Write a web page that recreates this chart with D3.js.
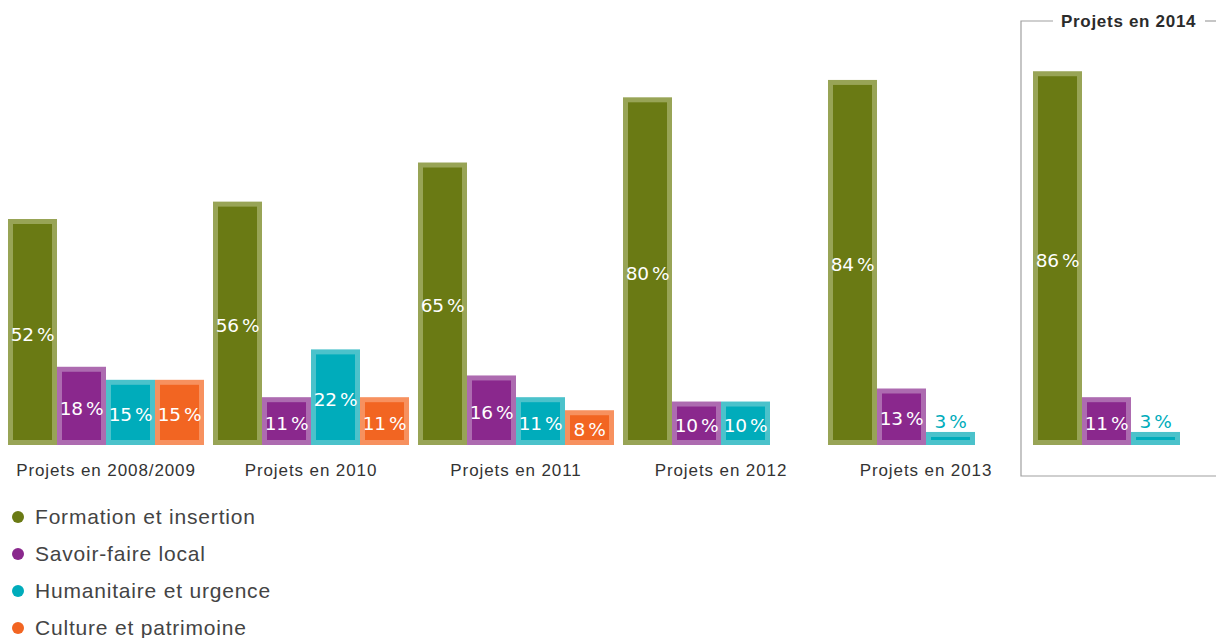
<!DOCTYPE html>
<html lang="fr">
<head>
<meta charset="utf-8">
<script src="https://cdn.jsdelivr.net/npm/d3@7"></script>
<style>
  html, body { margin: 0; padding: 0; background: #fff; }
  svg { display: block; }
</style>
</head>
<body>
<svg id="chart" width="1216" height="638"></svg>
<script>
// Project years and thematic categories
const years = ["2008/2009", "2010", "2011", "2012", "2013", "2014"];
const categories = ["Formation et insertion", "Savoir-faire local", "Humanitaire et urgence", "Culture et patrimoine"];

// Share of projects per category, in percent (null = no project)
const formation   = [52, 56, 65, 80, 84, 86];
const savoirFaire = [18, 11, 16, 10, 13, 11];
const humanitaire = [15, 22, 11, 10, 3, 3];
const culture     = [15, 11, 8, null, null, null];

const groupLabels = ["Projets en 2008/2009", "Projets en 2010", "Projets en 2011", "Projets en 2012", "Projets en 2013", ""];
const highlightLabel = "Projets en 2014";

const darkColors  = ["#6a7a14", "#8a288d", "#00acbb", "#f26522"];
const lightColors = ["#98a456", "#ad6bb0", "#4bc2cb", "#f7915f"];

const series = [formation, savoirFaire, humanitaire, culture];

const svg = d3.select("#chart");

const baseY = 445;
const x0 = d3.scaleBand().domain(years).range([8, 1229]).paddingInner(9 / 205).paddingOuter(0);
const x1 = d3.scaleBand().domain(categories).range([0, x0.bandwidth()]).padding(0);
const y = d3.scaleLinear().domain([0, 100]).range([baseY, baseY - 434.6]);

const inset = 5;
const labelFont = "'DejaVu Sans', sans-serif";
const textFont = "'Liberation Sans', Arial, sans-serif";

years.forEach((yr, i) => {
  const g = svg.append("g").attr("transform", `translate(${x0(yr)},0)`);
  categories.forEach((cat, c) => {
    const v = series[c][i];
    if (v == null) return;
    const bx = x1(cat), bw = x1.bandwidth();
    const top = y(v), h = baseY - top;
    g.append("rect")
      .attr("x", bx).attr("y", top).attr("width", bw).attr("height", h)
      .attr("fill", lightColors[c]);
    g.append("rect")
      .attr("x", bx + inset).attr("y", top + inset)
      .attr("width", bw - 2 * inset).attr("height", Math.max(0, h - 2 * inset))
      .attr("fill", darkColors[c]);
    const small = v < 5;
    g.append("text")
      .attr("x", bx + bw / 2)
      .attr("y", small ? top - 11 : top + h / 2 + 2)
      .attr("dy", "0.36em")
      .attr("text-anchor", "middle")
      .attr("font-family", labelFont)
      .attr("font-size", 18.5)
      .attr("letter-spacing", "-0.3")
      .attr("fill", small ? darkColors[c] : "#ffffff")
      .text(v + "\u2009%");
  });
});

// Group captions under the bars
const axis = d3.axisBottom(x0).tickSize(0).tickFormat((d, i) => groupLabels[i]);
const axisG = svg.append("g").attr("transform", `translate(0,${baseY + 16})`).call(axis);
axisG.select(".domain").remove();
axisG.selectAll("text")
  .attr("font-family", textFont)
  .attr("font-size", 17)
  .attr("letter-spacing", "0.9")
  .attr("fill", "#333");

// Frame around the 2014 group
const frameX = x0("2014") - 12;
const frameTop = 21;
const frameBottom = 476;
const frame = svg.append("g").attr("stroke", "#a0a0a0").attr("stroke-width", 1.2).attr("fill", "none");
frame.append("path").attr("d", `M${frameX + 32},${frameTop} H${frameX} V${frameBottom} H1216`);
frame.append("path").attr("d", `M${frameX + 184},${frameTop} H1216`);
svg.append("text")
  .attr("x", frameX + 40).attr("y", frameTop).attr("dy", "0.35em")
  .attr("font-family", textFont)
  .attr("font-weight", "bold").attr("font-size", 17)
  .attr("letter-spacing", "0.7")
  .attr("fill", "#2b2b2b")
  .text(highlightLabel);

// Legend
const legend = svg.append("g").attr("transform", "translate(18,517)");
categories.forEach((cat, c) => {
  const row = legend.append("g").attr("transform", `translate(0,${c * 37})`);
  row.append("circle").attr("r", 6).attr("fill", darkColors[c]);
  row.append("text").attr("x", 17).attr("dy", "0.35em")
    .attr("font-family", textFont)
    .attr("font-size", 21).attr("letter-spacing", "0.8")
    .attr("fill", "#444")
    .text(cat);
});
</script>
</body>
</html>
